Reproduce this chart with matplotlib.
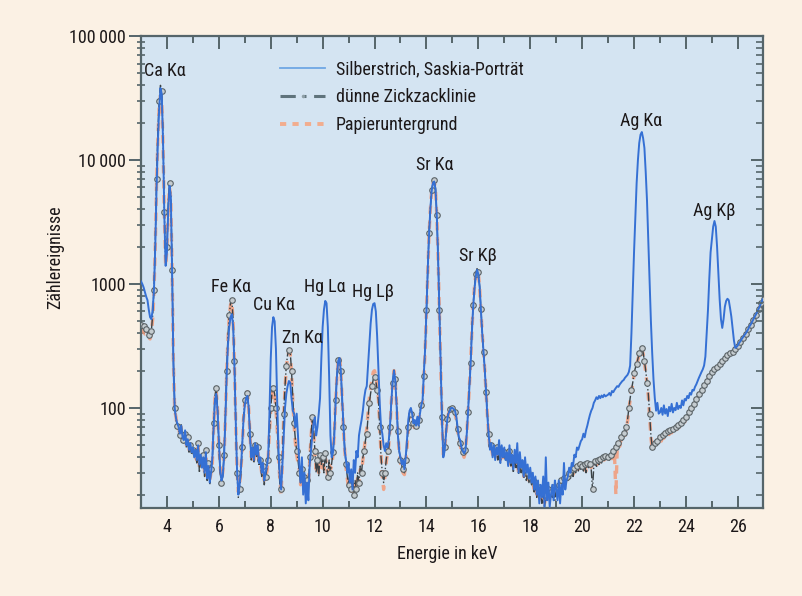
import numpy as np
import matplotlib
matplotlib.use('Agg')
import matplotlib.pyplot as plt
from matplotlib.lines import Line2D
from matplotlib.ticker import MultipleLocator, FixedLocator, LogLocator, NullFormatter

plt.rcParams['font.family'] = ['Roboto Condensed', 'PT Sans Narrow', 'Fira Sans Condensed',
                               'Archivo Narrow', 'DejaVu Sans']

# ---------------- data ----------------
# energy channels 3.00 ... 27.00 keV, 0.05 keV apart
energy_keV = np.round(3.0 + 0.05 * np.arange(481), 2)

# Silberstrich, Saskia-Porträt (one row per keV)
silver_counts = [
    1050, 1000, 940, 860, 790, 740, 620, 540, 520, 620, 900, 2000, 6000, 14000, 26000, 38000, 34000, 14000, 3500, 1400,
    1800, 4000, 6200, 5000, 1200, 220, 100, 82, 75, 70, 62, 72, 58, 55, 66, 50, 56, 46, 52, 44,
    48, 40, 46, 38, 50, 35, 42, 33, 40, 30, 44, 27, 34, 25, 30, 40, 70, 115, 130, 95,
    55, 32, 26, 28, 40, 80, 180, 320, 450, 540, 570, 460, 220, 80, 32, 20, 24, 32, 50, 80,
    105, 120, 125, 100, 60, 40, 48, 38, 52, 42, 50, 36, 40, 30, 36, 26, 30, 34, 40, 90,
    250, 450, 540, 500, 300, 110, 45, 28, 22, 35, 60, 100, 130, 150, 165, 160, 120, 95, 90, 70,
    90, 60, 35, 25, 40, 20, 30, 17, 25, 18, 35, 45, 60, 75, 84, 60, 70, 90, 120, 250,
    450, 620, 730, 700, 450, 180, 60, 40, 44, 60, 110, 180, 240, 253, 200, 120, 70, 45, 38, 30,
    36, 25, 32, 22, 38, 30, 45, 40, 60, 70, 80, 95, 120, 140, 150, 220, 330, 480, 620, 690,
    700, 600, 380, 200, 110, 70, 62, 50, 45, 52, 48, 55, 75, 115, 165, 200, 165, 105, 60, 45,
    40, 35, 38, 32, 40, 55, 80, 95, 100, 90, 75, 80, 72, 85, 72, 90, 105, 115, 190, 300,
    600, 1300, 2500, 4000, 5600, 6500, 6700, 5800, 3500, 1600, 600, 220, 80, 40, 45, 60, 80, 90, 95, 100,
    100, 98, 95, 85, 70, 58, 55, 48, 45, 43, 45, 60, 90, 140, 220, 400, 650, 900, 1150, 1300,
    1200, 950, 620, 400, 280, 200, 130, 85, 60, 46, 52, 40, 50, 38, 48, 42, 55, 36, 50, 40,
    48, 38, 44, 34, 50, 36, 42, 32, 46, 36, 52, 30, 44, 33, 38, 28, 40, 30, 35, 27,
    33, 25, 30, 22, 28, 20, 26, 17, 24, 19, 28, 16, 40, 18, 25, 16, 20, 24, 18, 26,
    22, 18, 26, 17, 24, 20, 36, 22, 26, 28, 33, 30, 36, 34, 42, 40, 48, 46, 50, 54,
    56, 62, 58, 66, 72, 80, 88, 95, 100, 110, 115, 122, 118, 125, 120, 126, 122, 128, 124, 126,
    128, 132, 126, 137, 134, 140, 145, 150, 148, 155, 160, 165, 168, 175, 180, 185, 195, 220, 400, 850,
    1800, 3500, 6500, 10000, 13700, 16000, 16800, 15000, 12500, 8000, 4700, 2200, 1000, 500, 277, 170, 120, 95, 110, 90,
    92, 100, 88, 105, 90, 98, 86, 102, 94, 108, 92, 100, 96, 110, 98, 104, 100, 115, 105, 118,
    115, 125, 120, 132, 128, 140, 138, 148, 155, 165, 175, 185, 195, 205, 220, 260, 400, 620, 1100, 1800,
    2300, 2900, 3220, 2900, 2000, 1200, 750, 520, 442, 520, 656, 730, 760, 740, 640, 545, 440, 350, 305, 310,
    320, 335, 345, 360, 372, 385, 398, 415, 432, 455, 472, 495, 518, 545, 568, 600, 630, 665, 705, 745,
    765,
]

# dünne Zickzacklinie
zigzag_counts = [
    470, 440, 460, 420, 430, 400, 390, 380, 420, 560, 900, 2200, 7000, 17000, 30000, 40000, 36000, 15000, 3800, 1500,
    2000, 4500, 6500, 5200, 1300, 240, 100, 80, 72, 68, 60, 75, 55, 52, 62, 48, 58, 44, 50, 42,
    46, 42, 44, 36, 52, 30, 40, 35, 42, 28, 46, 26, 36, 24, 32, 38, 75, 125, 144, 100,
    50, 30, 25, 28, 42, 85, 200, 380, 560, 700, 740, 520, 240, 80, 30, 19, 22, 30, 48, 85,
    115, 130, 132, 105, 62, 38, 45, 36, 50, 40, 48, 34, 38, 28, 34, 24, 28, 32, 38, 60,
    100, 135, 144, 130, 100, 70, 40, 24, 22, 40, 90, 150, 220, 270, 294, 285, 200, 120, 75, 55,
    45, 38, 30, 25, 32, 23, 28, 20, 26, 22, 40, 60, 84, 70, 45, 30, 38, 28, 42, 35,
    40, 30, 43, 35, 28, 38, 30, 36, 44, 65, 115, 185, 245, 253, 200, 120, 70, 48, 35, 28,
    24, 30, 22, 28, 20, 26, 22, 30, 25, 34, 30, 40, 45, 55, 62, 85, 110, 132, 150, 170,
    178, 165, 140, 115, 70, 40, 30, 25, 30, 38, 45, 48, 70, 110, 160, 202, 170, 110, 65, 45,
    38, 34, 32, 30, 38, 50, 70, 85, 90, 88, 75, 70, 72, 70, 80, 95, 105, 110, 180, 300,
    620, 1350, 2600, 4100, 5700, 6600, 6900, 5900, 3600, 1650, 620, 230, 85, 40, 48, 62, 82, 92, 98, 102,
    100, 98, 92, 82, 68, 56, 52, 46, 44, 42, 46, 62, 92, 145, 230, 420, 680, 950, 1200, 1330,
    1250, 960, 630, 410, 285, 205, 135, 88, 62, 48, 50, 44, 46, 40, 48, 38, 44, 36, 45, 40,
    44, 38, 40, 35, 45, 34, 38, 30, 40, 33, 38, 29, 36, 30, 34, 27, 32, 26, 30, 25,
    28, 24, 26, 21, 25, 19, 23, 18, 22, 17, 21, 16, 20, 18, 22, 17, 21, 19, 23, 18,
    22, 20, 24, 21, 26, 23, 27, 24, 28, 26, 30, 27, 32, 28, 33, 30, 34, 31, 35, 32,
    34, 31, 35, 30, 36, 33, 35, 32, 22, 34, 37, 33, 38, 35, 39, 36, 40, 37, 41, 38,
    40, 38, 42, 40, 45, 42, 48, 46, 52, 50, 58, 55, 63, 62, 70, 80, 100, 120, 140, 160,
    190, 210, 225, 250, 275, 295, 303, 280, 240, 200, 160, 130, 90, 60, 48, 50, 52, 55, 54, 57,
    58, 56, 60, 58, 63, 60, 65, 62, 66, 64, 68, 66, 70, 68, 73, 71, 76, 74, 80, 78,
    84, 88, 92, 95, 100, 104, 108, 112, 118, 124, 130, 136, 140, 146, 152, 158, 165, 172, 180, 190,
    195, 200, 205, 210, 215, 220, 226, 232, 238, 245, 252, 258, 265, 270, 275, 278, 285, 292, 300, 308,
    318, 330, 342, 355, 368, 380, 395, 410, 430, 450, 470, 490, 515, 540, 565, 595, 625, 660, 700, 740,
    760,
]

# Papieruntergrund
paper_counts = [
    430, 410, 420, 395, 400, 380, 370, 360, 400, 520, 850, 2000, 6500, 15000, 27000, 33000, 31000, 13000, 3500, 1400,
    1900, 4200, 6000, 4900, 1250, 230, 95, 84, 70, 72, 58, 70, 57, 50, 60, 50, 55, 46, 48, 44,
    44, 45, 40, 38, 48, 33, 38, 37, 40, 30, 42, 28, 34, 26, 30, 36, 70, 120, 138, 98,
    52, 33, 27, 30, 40, 80, 190, 360, 540, 680, 720, 500, 230, 78, 32, 21, 24, 32, 46, 82,
    112, 128, 135, 100, 60, 40, 43, 38, 48, 42, 46, 36, 36, 30, 32, 26, 30, 30, 40, 62,
    98, 130, 140, 128, 96, 66, 42, 26, 20, 38, 86, 145, 210, 260, 285, 275, 195, 115, 72, 52,
    42, 36, 32, 24, 30, 25, 26, 22, 24, 24, 38, 58, 80, 66, 42, 32, 36, 30, 40, 33,
    38, 32, 40, 36, 26, 36, 32, 34, 42, 62, 110, 180, 240, 260, 205, 118, 68, 46, 33, 27,
    22, 28, 20, 26, 19, 25, 21, 28, 24, 32, 30, 38, 46, 58, 68, 92, 120, 145, 170, 195,
    200, 180, 150, 118, 72, 42, 28, 22, 28, 36, 44, 50, 72, 115, 165, 200, 168, 105, 62, 44,
    36, 32, 30, 29, 36, 48, 68, 82, 92, 86, 72, 68, 70, 72, 78, 92, 100, 112, 175, 290,
    600, 1300, 2500, 4000, 5600, 6500, 6800, 5800, 3500, 1600, 600, 225, 82, 42, 46, 60, 80, 90, 96, 100,
    98, 96, 90, 80, 66, 55, 50, 45, 43, 40, 44, 60, 90, 140, 225, 410, 670, 940, 1180, 1300,
    1230, 940, 620, 400, 280, 200, 130, 86, 60, 46, 48, 42, 44, 42, 45, 40, 42, 38, 43, 38,
    42, 40, 38, 36, 42, 35, 36, 32, 38, 34, 36, 30, 34, 31, 32, 28, 30, 27, 29, 26,
    27, 25, 25, 22, 24, 20, 22, 19, 21, 18, 20, 17, 19, 19, 21, 18, 20, 20, 22, 19,
    21, 21, 23, 22, 25, 24, 26, 25, 27, 27, 29, 28, 31, 29, 32, 31, 33, 32, 34, 33,
    33, 32, 34, 31, 35, 34, 34, 33, 35, 35, 36, 34, 37, 36, 38, 37, 39, 38, 40, 39,
    39, 37, 41, 39, 44, 41, 20, 45, 50, 49, 56, 54, 61, 60, 68, 78, 96, 116, 136, 155,
    185, 205, 220, 245, 270, 290, 298, 275, 235, 195, 155, 125, 85, 58, 46, 48, 50, 53, 52, 55,
    56, 54, 58, 57, 61, 59, 63, 61, 64, 63, 66, 65, 68, 67, 71, 70, 74, 73, 78, 77,
    82, 86, 90, 94, 98, 102, 106, 110, 116, 122, 128, 134, 138, 144, 150, 156, 162, 170, 178, 186,
    192, 198, 202, 208, 212, 218, 224, 230, 236, 242, 250, 256, 262, 268, 272, 276, 282, 290, 298, 305,
    315, 326, 338, 350, 364, 376, 390, 406, 425, 445, 465, 485, 510, 535, 560, 590, 620, 655, 695, 735,
    755,
]

series_names = ['Silberstrich, Saskia-Porträt', 'dünne Zickzacklinie', 'Papieruntergrund']

peak_labels = ['Ca Kα', 'Fe Kα', 'Cu Kα', 'Zn Kα', 'Hg Lα', 'Hg Lβ', 'Sr Kα', 'Sr Kβ', 'Ag Kα', 'Ag Kβ']
peak_label_keV = [3.92, 6.47, 8.12, 9.20, 10.09, 11.94, 14.33, 15.98, 22.27, 25.08]
peak_label_counts = [52200, 946, 677, 367, 946, 861, 9120, 1683, 20650, 3880]

y_tick_values = [100, 1000, 10000, 100000]
y_tick_labels = ['100', '1000', '10\u2009000', '100\u2009000']

# ---------------- styling ----------------
W, H = 803, 596
fig = plt.figure(figsize=(W / 100, H / 100), dpi=100)
fig.patch.set_facecolor('#fbf1e4')

L, R, T, B = 141, 763, 36, 508
ax = fig.add_axes([L / W, 1 - B / H, (R - L) / W, (B - T) / H])
ax.set_facecolor('#d4e4f2')

spine_col = '#55656a'
text_col = '#1c1819'
fs = 13
fw = 'normal'

ax.plot(energy_keV, paper_counts, color='#f39a78', lw=2.4, ls=(0, (2.5, 2)), alpha=0.85, zorder=2)
ax.plot(energy_keV, zigzag_counts, color='#3b4246', lw=1.0, ls='-.', marker='o', ms=4,
        mfc='#c5ccd0', mec='#5a6266', mew=0.8, markevery=2, zorder=3)
ax.plot(energy_keV, silver_counts, color='#3570d4', lw=1.4, zorder=4)

ax.set_yscale('log')
ax.set_xlim(3.0, 26.97)
ax.set_ylim(15.6, 100000)

ax.xaxis.set_major_locator(MultipleLocator(2))
ax.xaxis.set_minor_locator(MultipleLocator(1))
ax.yaxis.set_major_locator(FixedLocator(y_tick_values))
ax.set_yticklabels(y_tick_labels, fontweight=fw)
ax.yaxis.set_minor_locator(LogLocator(base=10, subs=np.arange(2, 10)))
ax.yaxis.set_minor_formatter(NullFormatter())

for s in ax.spines.values():
    s.set_color(spine_col)
    s.set_linewidth(1.6)

ax.tick_params(axis='x', which='both', direction='in', top=True, bottom=True, color=spine_col,
               width=1.4, labelsize=fs, labelcolor=text_col, pad=7)
ax.tick_params(axis='x', which='major', length=9)
ax.tick_params(axis='x', which='minor', length=5)
ax.tick_params(axis='y', which='major', direction='out', length=9, width=1.4, color=spine_col,
               labelsize=fs, labelcolor=text_col, pad=2, right=False)
ax.tick_params(axis='y', which='minor', direction='inout', length=6, width=1.2, color=spine_col,
               right=False)

ax2 = ax.twinx()
ax2.set_yscale('log')
ax2.set_ylim(ax.get_ylim())
ax2.yaxis.set_major_locator(FixedLocator(y_tick_values))
ax2.yaxis.set_minor_locator(LogLocator(base=10, subs=np.arange(2, 10)))
ax2.yaxis.set_major_formatter(NullFormatter())
ax2.yaxis.set_minor_formatter(NullFormatter())
ax2.tick_params(axis='y', which='major', direction='in', length=9, width=1.4, color=spine_col)
ax2.tick_params(axis='y', which='minor', direction='in', length=5, width=1.2, color=spine_col)
for s in ax2.spines.values():
    s.set_visible(False)

for lab, xk, yc in zip(peak_labels, peak_label_keV, peak_label_counts):
    ax.text(xk, yc, lab, ha='center', va='center', fontsize=fs, fontweight=fw,
            color=text_col, zorder=6)

ax.set_xlabel('Energie in keV', fontsize=fs, fontweight=fw, color=text_col, va='center')
ax.xaxis.set_label_coords((447 - L) / (R - L), (B - 554) / (B - T))
ax.set_ylabel('Zählereignisse', fontsize=fs, fontweight=fw, color=text_col, va='center')
ax.yaxis.set_label_coords((55 - L) / (R - L), (B - 257) / (B - T))

legend_handles = [
    Line2D([], [], color='#6fa6e4', lw=1.3),
    Line2D([], [], color='#5f737c', lw=2.2, ls=(0, (5, 2.5, 1, 2.5)), marker='.', ms=3,
           mfc='#8fa0a8', mec='#8fa0a8'),
    Line2D([], [], color='#f2ad8e', lw=2.8, ls=(0, (1.6, 1.6))),
]
leg = ax.legend(legend_handles, series_names, loc='upper left',
                bbox_to_anchor=((280 - L) / (R - L), 1 - (60 - T) / (B - T)),
                frameon=False, handlelength=2.5, handletextpad=0.6,
                labelspacing=0.55, borderpad=0, borderaxespad=0,
                prop={'size': fs, 'weight': fw})
for t in leg.get_texts():
    t.set_color(text_col)

fig.savefig('out.png', dpi=100, facecolor=fig.get_facecolor())
